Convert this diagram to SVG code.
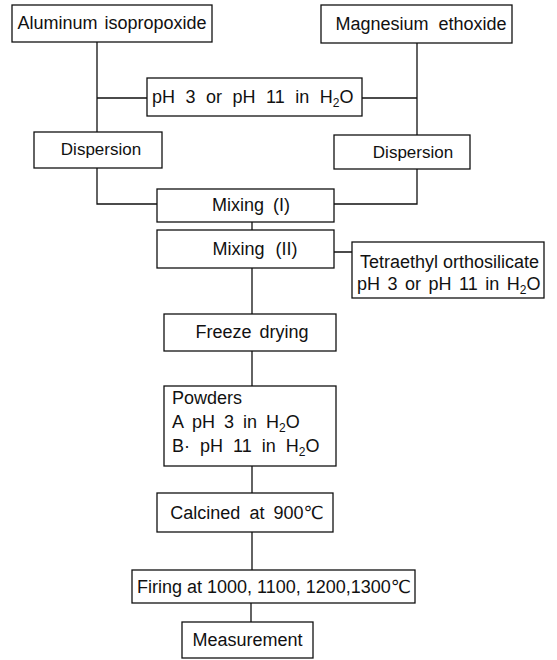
<svg xmlns="http://www.w3.org/2000/svg" width="557" height="660" viewBox="0 0 557 660">
<style>
.box{fill:#fff;stroke:#111;stroke-width:1.3}
.ln{fill:none;stroke:#111;stroke-width:1.3}
text{font-family:"Liberation Sans",Arial,"DejaVu Sans",sans-serif;font-size:18px;fill:#111}
.m{text-anchor:middle}
.sub{font-size:12px}
</style>
<rect width="557" height="660" fill="#fff"/>
<g id="connectors">
<path class="ln" d="M97 42V132M97 98H147M417 43V135M362 98H417"/>
<path class="ln" d="M97 168V204H157M417 169V204H334"/>
<path class="ln" d="M252 222V230M334 252H352M252 268V314M252 351V386M252 466V493M252 532V570M251 603V622"/>
</g>
<g id="aluminum">
<rect class="box" x="12" y="5" width="200" height="37"/>
<text class="m" x="112" y="29" word-spacing="2">Aluminum isopropoxide</text>
</g>
<g id="magnesium">
<rect class="box" x="321" y="5" width="191" height="38"/>
<text class="m" x="421" y="30" word-spacing="5">Magnesium ethoxide</text>
</g>
<g id="ph-water">
<rect class="box" x="147" y="78" width="215" height="38"/>
<text x="152" y="103" word-spacing="5.5">pH 3 or pH 11 in H<tspan class="sub" dy="4">2</tspan><tspan dy="-4">O</tspan></text>
</g>
<g id="dispersion-left">
<rect class="box" x="34" y="132" width="128" height="36"/>
<text class="m" x="101" y="155" style="font-size:17px">Dispersion</text>
</g>
<g id="dispersion-right">
<rect class="box" x="334" y="135" width="136" height="34"/>
<text class="m" x="413" y="158" style="font-size:17px">Dispersion</text>
</g>
<g id="mixing-1">
<rect class="box" x="157" y="189" width="177" height="33"/>
<text class="m" x="251" y="211" word-spacing="4">Mixing (I)</text>
</g>
<g id="mixing-2">
<rect class="box" x="157" y="230" width="177" height="38"/>
<text class="m" x="255" y="255" word-spacing="6">Mixing (II)</text>
</g>
<g id="teos">
<rect class="box" x="352" y="242" width="192" height="56"/>
<text x="360" y="268">Tetraethyl orthosilicate</text>
<text x="357" y="290" word-spacing="2.5">pH 3 or pH 11 in H<tspan class="sub" dy="4">2</tspan><tspan dy="-4">O</tspan></text>
</g>
<g id="freeze-drying">
<rect class="box" x="164" y="314" width="172" height="37"/>
<text class="m" x="252" y="338" word-spacing="3">Freeze drying</text>
</g>
<g id="powders">
<rect class="box" x="164" y="386" width="172" height="80"/>
<text x="172" y="404">Powders</text>
<text x="172" y="428" word-spacing="4">A pH 3 in H<tspan class="sub" dy="4">2</tspan><tspan dy="-4">O</tspan></text>
<text x="172" y="452" word-spacing="5">B· pH 11 in H<tspan class="sub" dy="4">2</tspan><tspan dy="-4">O</tspan></text>
</g>
<g id="calcined">
<rect class="box" x="157" y="493" width="176" height="39"/>
<text class="m" x="247" y="519" word-spacing="4">Calcined at 900℃</text>
</g>
<g id="firing">
<rect class="box" x="132" y="570" width="283" height="33"/>
<text x="137" y="593">Firing at 1000, 1100, 1200,1300℃</text>
</g>
<g id="measurement">
<rect class="box" x="182" y="622" width="131" height="36"/>
<text class="m" x="247.5" y="646">Measurement</text>
</g>
</svg>
